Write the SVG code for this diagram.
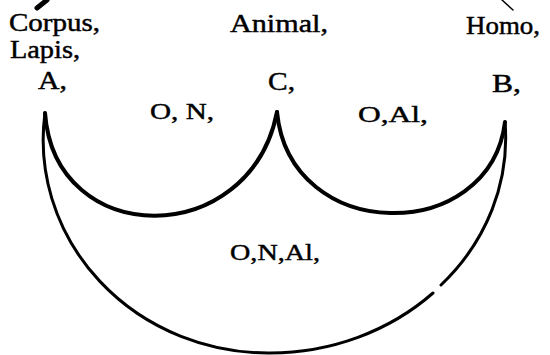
<svg xmlns="http://www.w3.org/2000/svg" width="550" height="355" viewBox="0 0 550 355">
<style>
.t{font-family:"Liberation Serif","DejaVu Serif",serif;font-size:25px;fill:#000;stroke:#000;stroke-width:0.45}
.s{font-size:24px}
.a{fill:none;stroke:#000;stroke-linecap:round}
.in{stroke-width:4}
.out{stroke-width:3}
</style>
<rect width="550" height="355" fill="#fff"/>
<g id="connectors">
<path class="a out" d="M37,8 L47,0" style="stroke-width:5"/>
<path class="a" d="M502,0 L513,10" style="stroke-width:1.5"/>
<path class="a in" d="M45,113 C55,250 250,250 277,112"/>
<path class="a in" d="M277,112 C290,245 490,245 505,122"/>
<path class="a out" d="M45,113 A225,213 0 0 0 270,353 A235,213 0 0 0 433,293"/>
<path class="a out" d="M441,285 A235,213 0 0 0 505,122"/>
</g>
<g id="corpus"><text class="t" x="9" y="31" textLength="91" lengthAdjust="spacingAndGlyphs">Corpus,</text></g>
<g id="lapis"><text class="t" x="10" y="58" textLength="70" lengthAdjust="spacingAndGlyphs">Lapis,</text></g>
<g id="A"><text class="t" x="38" y="89" textLength="29" lengthAdjust="spacingAndGlyphs">A,</text></g>
<g id="animal"><text class="t" x="230" y="32" textLength="98" lengthAdjust="spacingAndGlyphs">Animal,</text></g>
<g id="C"><text class="t" x="268" y="90" textLength="27" lengthAdjust="spacingAndGlyphs">C,</text></g>
<g id="homo"><text class="t" x="466" y="34" textLength="74" lengthAdjust="spacingAndGlyphs">Homo,</text></g>
<g id="B"><text class="t" x="492" y="92" textLength="29" lengthAdjust="spacingAndGlyphs">B,</text></g>
<g id="ON"><text class="t s" x="150" y="119" textLength="64" lengthAdjust="spacingAndGlyphs">O, N,</text></g>
<g id="OAl"><text class="t s" x="358" y="122" textLength="70" lengthAdjust="spacingAndGlyphs">O,Al,</text></g>
<g id="ONAl"><text class="t s" x="230" y="260" textLength="90" lengthAdjust="spacingAndGlyphs">O,N,Al,</text></g>
</svg>
